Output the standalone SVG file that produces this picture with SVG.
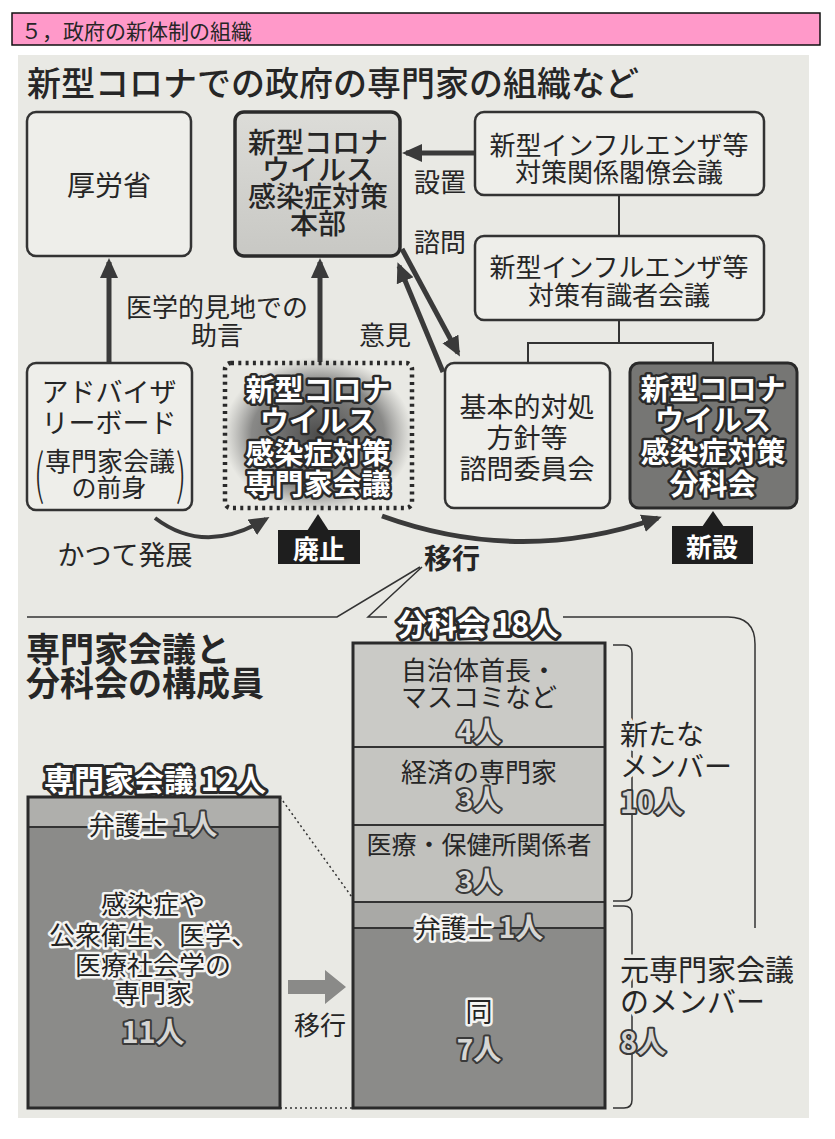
<svg xmlns="http://www.w3.org/2000/svg" width="835" height="1139" viewBox="0 0 835 1139">
<defs>
<style>
.t{font-family:"Noto Sans CJK JP","Noto Sans CJK SC",sans-serif;text-anchor:middle;dominant-baseline:central;fill:#262626}
.s{text-anchor:start}
.b{font-weight:700}
.m{font-weight:500}
.box{fill:#eeeeea;stroke:#333;stroke-width:2.5}
.wo{fill:#fff;stroke:#2a2a2a;stroke-width:5;paint-order:stroke;stroke-linejoin:round;font-weight:700}
.halo{fill:#222;stroke:#f4f4f2;stroke-width:5;paint-order:stroke;stroke-linejoin:round}
.num{fill:#d6d6d4;stroke:#3a3a3a;stroke-width:4;paint-order:stroke;stroke-linejoin:round;font-weight:700}
.bgh{stroke:#e9e9e4;stroke-width:7;paint-order:stroke;stroke-linejoin:round}
.ln{fill:none;stroke:#333;stroke-width:2}
.thin{fill:none;stroke:#333;stroke-width:1.5}
.arr{fill:none;stroke:#3a3a3a;stroke-width:5;marker-end:url(#ah)}
.dot{fill:none;stroke:#333;stroke-width:1.5;stroke-dasharray:2 3}
</style>
<marker id="ah" markerUnits="userSpaceOnUse" markerWidth="20" markerHeight="20" refX="16" refY="10" orient="auto">
<path d="M0,1 L20,10 L0,19 z" fill="#3a3a3a"/>
</marker>
<radialGradient id="glow" cx="0.5" cy="0.5" r="0.5">
<stop offset="0" stop-color="#444" stop-opacity="0.95"/>
<stop offset="0.7" stop-color="#555" stop-opacity="0.65"/>
<stop offset="1" stop-color="#777" stop-opacity="0"/>
</radialGradient>
<linearGradient id="hq" x1="0" y1="0" x2="0" y2="1">
<stop offset="0" stop-color="#dcdcd8"/>
<stop offset="1" stop-color="#c8c8c4"/>
</linearGradient>
</defs>

<rect x="0" y="0" width="835" height="1139" fill="#fff"/>
<g id="header">
<rect x="12" y="13" width="808" height="32" fill="#ff99c9" stroke="#111" stroke-width="1.5"/>
<text class="t s" x="21" y="30" font-size="21">５，政府の新体制の組織</text>
</g>
<rect x="18" y="55" width="791" height="1063" fill="#e9e9e4"/>
<text class="t s m" x="27" y="81" font-size="34">新型コロナでの政府の専門家の組織など</text>

<g id="connectors">
<path class="arr" d="M109,363 V262"/>
<path class="arr" d="M320,362 V262"/>
<path class="arr" d="M475,153 H406"/>
<path class="arr" d="M402,249 L458,353"/>
<path class="arr" d="M443,372 L399,266"/>
<path class="arr" style="stroke-width:4" d="M155,518 Q205,556 266,519"/>
<path class="arr" d="M382,516 Q520,566 658,518"/>
<path class="ln" d="M619,195 V236 M619,320 V343 M528,362 V343 H713 V362"/>
<path class="thin" d="M420,567 L337,617 H27 M422,567 L368,617 H387"/>
<path class="thin" d="M563,617 H728 Q755,617 755,644 V928"/>
<path class="thin" d="M613,645 H624 Q632,645 632,653 V893 Q632,901 624,901 H613"/>
<path class="thin" d="M613,906 H624 Q632,906 632,914 V1100 Q632,1108 624,1108 H613"/>
<path class="dot" d="M280,797 L354,900 M280,1108 H354"/>
<polygon points="288,980 325,980 325,970 346,987 325,1004 325,994 288,994" fill="#8a8a88"/>
</g>

<g id="kourousho">
<rect class="box" x="27" y="112" width="164" height="144" rx="9"/>
<text class="t" x="109" y="184" font-size="28">厚労省</text>
</g>

<g id="honbu">
<rect x="235" y="112" width="165" height="144" rx="9" fill="url(#hq)" stroke="#2a2a2a" stroke-width="3.5"/>
<text class="t m" x="318" y="141" font-size="28">新型コロナ</text>
<text class="t m" x="318" y="168" font-size="28">ウイルス</text>
<text class="t m" x="318" y="195" font-size="28">感染症対策</text>
<text class="t m" x="318" y="222" font-size="28">本部</text>
</g>

<g id="kakuryo">
<rect class="box" x="475" y="112" width="289" height="83" rx="9"/>
<text class="t" x="619" y="143" font-size="26">新型インフルエンザ等</text>
<text class="t" x="619" y="170" font-size="26">対策関係閣僚会議</text>
</g>

<g id="yushikisha">
<rect class="box" x="475" y="236" width="289" height="84" rx="9"/>
<text class="t" x="619" y="265" font-size="26">新型インフルエンザ等</text>
<text class="t" x="619" y="293" font-size="26">対策有識者会議</text>
</g>

<g id="labels-top">
<text class="t" x="440" y="180" font-size="26">設置</text>
<text class="t" x="440" y="240" font-size="26">諮問</text>
<text class="t" x="217" y="305" font-size="26">医学的見地での</text>
<text class="t" x="217" y="333" font-size="26">助言</text>
<text class="t" x="385" y="333" font-size="26">意見</text>
</g>

<g id="advisory">
<rect class="box" x="27" y="363" width="165" height="147" rx="9"/>
<text class="t" x="109" y="390" font-size="27">アドバイザ</text>
<text class="t" x="109" y="421" font-size="27">リーボード</text>
<text class="t" x="110" y="459" font-size="26">専門家会議</text>
<text class="t" x="109" y="486" font-size="25">の前身</text>
<text class="t" x="39" y="470" font-size="54" font-weight="300" transform="translate(39 470) scale(0.6 1) translate(-39 -470)">(</text>
<text class="t" x="181" y="470" font-size="54" font-weight="300" transform="translate(181 470) scale(0.6 1) translate(-181 -470)">)</text>
</g>

<g id="senmonka">
<ellipse cx="318" cy="435" rx="95" ry="78" fill="url(#glow)"/>
<rect x="225" y="363" width="187" height="145" rx="6" fill="none" stroke="#2a2a2a" stroke-width="4.5" stroke-dasharray="3 4.3"/>
<text class="t wo" x="318" y="388" font-size="29">新型コロナ</text>
<text class="t wo" x="318" y="419" font-size="29">ウイルス</text>
<text class="t wo" x="318" y="451" font-size="29">感染症対策</text>
<text class="t wo" x="318" y="482" font-size="29">専門家会議</text>
</g>

<g id="haishi">
<polygon points="307,531 329,531 318,514" fill="#1e1e1e"/>
<rect x="278" y="530" width="82" height="34" fill="#1e1e1e"/>
<text class="t b" x="319" y="547" font-size="26" style="fill:#fff">廃止</text>
</g>

<g id="kihon">
<rect class="box" x="445" y="363" width="165" height="145" rx="9"/>
<text class="t" x="527" y="405" font-size="27">基本的対処</text>
<text class="t" x="527" y="436" font-size="27">方針等</text>
<text class="t" x="527" y="467" font-size="27">諮問委員会</text>
</g>

<g id="bunkakai">
<rect x="630" y="363" width="167" height="145" rx="9" fill="#767674" stroke="#2a2a2a" stroke-width="3"/>
<text class="t wo" x="713" y="387" font-size="29">新型コロナ</text>
<text class="t wo" x="713" y="418" font-size="29">ウイルス</text>
<text class="t wo" x="713" y="450" font-size="29">感染症対策</text>
<text class="t wo" x="713" y="482" font-size="29">分科会</text>
</g>

<g id="shinsetsu">
<polygon points="702,527 724,527 713,511" fill="#1e1e1e"/>
<rect x="672" y="526" width="81" height="38" fill="#1e1e1e"/>
<text class="t b" x="712" y="545" font-size="26" style="fill:#fff">新設</text>
</g>

<g id="labels-mid">
<text class="t" x="125" y="553" font-size="27">かつて発展</text>
<text class="t b" x="452" y="557" font-size="28">移行</text>
</g>

<text class="t s b" x="26" y="647" font-size="34">専門家会議と</text>
<text class="t s b" x="26" y="681" font-size="34">分科会の構成員</text>

<g id="expert-members">
<text class="t wo" x="155" y="778" font-size="30" style="stroke-width:6">専門家会議 12人</text>
<rect x="28" y="797" width="252" height="30" fill="#afafac"/>
<rect x="28" y="827" width="252" height="281" fill="#8b8b89"/>
<path class="ln" d="M28,827 H280"/>
<rect x="28" y="797" width="252" height="311" fill="none" stroke="#2a2a2a" stroke-width="3"/>
<text class="t halo" x="153" y="823" font-size="26">弁護士 <tspan class="num" font-size="28">1人</tspan></text>
<text class="t halo" x="153" y="902" font-size="26">感染症や</text>
<text class="t halo" x="153" y="933" font-size="26">公衆衛生、医学、</text>
<text class="t halo" x="153" y="963" font-size="26">医療社会学の</text>
<text class="t halo" x="153" y="991" font-size="26">専門家</text>
<text class="t num" x="153" y="1030" font-size="29">11人</text>
<text class="t" x="320" y="1023" font-size="26">移行</text>
</g>

<g id="bunkakai-members">
<text class="t wo" x="478" y="622" font-size="30" style="stroke-width:6">分科会 18人</text>
<rect x="353" y="643" width="252" height="104" fill="#cacac6"/>
<rect x="353" y="747" width="252" height="78" fill="#c5c5c1"/>
<rect x="353" y="825" width="252" height="77" fill="#c1c1bd"/>
<rect x="353" y="902" width="252" height="26" fill="#a9a9a6"/>
<rect x="353" y="928" width="252" height="180" fill="#8b8b89"/>
<path class="ln" d="M353,747 H605 M353,825 H605 M353,902 H605 M353,928 H605"/>
<rect x="353" y="643" width="252" height="465" fill="none" stroke="#2a2a2a" stroke-width="3"/>
<text class="t" x="479" y="668" font-size="26">自治体首長・</text>
<text class="t" x="479" y="695" font-size="26">マスコミなど</text>
<text class="t num" x="479" y="730" font-size="28">4人</text>
<text class="t" x="479" y="770" font-size="26">経済の専門家</text>
<text class="t num" x="479" y="798" font-size="28">3人</text>
<text class="t" x="479" y="843" font-size="25">医療・保健所関係者</text>
<text class="t num" x="479" y="880" font-size="28">3人</text>
<text class="t halo" x="479" y="926" font-size="26">弁護士 <tspan class="num" font-size="28">1人</tspan></text>
<text class="t halo" x="479" y="1010" font-size="27">同</text>
<text class="t num" x="479" y="1048" font-size="28">7人</text>
</g>

<g id="new-members">
<text class="t s bgh" x="620" y="733" font-size="28">新たな</text>
<text class="t s bgh" x="620" y="765" font-size="28">メンバー</text>
<text class="t s num" x="620" y="800" font-size="29">10人</text>
</g>

<g id="former-members">
<text class="t s bgh" x="620" y="968" font-size="29">元専門家会議</text>
<text class="t s bgh" x="620" y="1000" font-size="29">のメンバー</text>
<text class="t s num" x="620" y="1040" font-size="29">8人</text>
</g>
</svg>
